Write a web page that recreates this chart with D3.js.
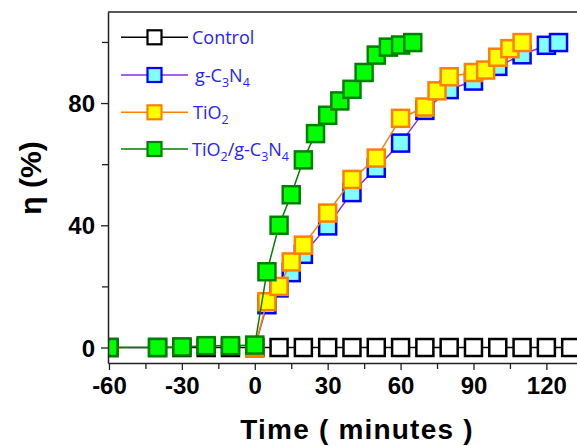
<!DOCTYPE html>
<html>
<head>
  <meta charset="utf-8">
  <script src="https://d3js.org/d3.v7.min.js"></script>
  <style>
    body { margin: 0; background: #fff; }
  </style>
</head>
<body>
  <script>
    // data
    var timeControl = [-60, -40, -30, -20, -10, 0, 10, 20, 30, 40, 50, 60, 70, 80, 90, 100, 110, 120, 130];
    var etaControl  = [0, 0, 0, 0, 0, 0, 0, 0, 0, 0, 0, 0, 0, 0, 0, 0, 0, 0, 0];

    var timeGCN = [0, 5, 10, 15, 20, 30, 40, 50, 60, 70, 80, 90, 100, 110, 120, 125];
    var etaGCN  = [0, 14, 19.5, 24.5, 30.5, 39.8, 50.7, 58.7, 66.9, 77.6, 84.4, 87.2, 92, 95.8, 98.9, 99.8];

    var timeTiO2 = [0, 5, 10, 15, 20, 30, 40, 50, 60, 70, 75, 80, 90, 95, 100, 105, 110];
    var etaTiO2  = [0, 15, 20, 28, 33.5, 44, 55, 62, 75, 78.7, 84, 88.6, 90, 90.8, 95, 97.8, 99.8];

    var timeComp = [-60, -40, -30, -20, -10, 0, 5, 10, 15, 20, 25, 30, 35, 40, 45, 50, 55, 60, 65];
    var etaComp  = [0, 0, 0.2, 0.6, 0.6, 0.8, 24.8, 40, 50, 61.4, 70, 76, 80.7, 84.5, 90, 95.7, 98.3, 99, 99.8];

    var xMajor = [-60, -30, 0, 30, 60, 90, 120];
    var xMinor = [-45, -15, 15, 45, 75, 105];
    var yMajor = [0, 40, 80];
    var yMinor = [20, 60, 100];

    var width = 577, height = 446;
    var padL = 108, padT = 12, padB = 363;

    var svg = d3.select('body').append('svg')
      .attr('width', width)
      .attr('height', height);

    var x = d3.scaleLinear().domain([-60.4, 132.6]).range([padL, width]);
    var y = d3.scaleLinear().domain([-5.07, 109.8]).range([padB, padT]);

    // series styles
    var series = [
      { t: timeControl, v: etaControl, line: '#000000', fill: '#ffffff', edge: '#000000' },
      { t: timeGCN, v: etaGCN, line: '#8a2be2', fill: '#80ffff', edge: '#0000ff' },
      { t: timeTiO2, v: etaTiO2, line: '#ff8000', fill: '#ffff00', edge: '#ff8000' },
      { t: timeComp, v: etaComp, line: '#008000', fill: '#00ff00', edge: '#008000' }
    ];

    svg.append('clipPath').attr('id', 'plotclip')
      .append('rect')
      .attr('x', padL).attr('y', padT)
      .attr('width', width - padL).attr('height', padB - padT);

    var plot = svg.append('g').attr('clip-path', 'url(#plotclip)');
    var line = d3.line().x(function (d) { return x(d[0]); }).y(function (d) { return y(d[1]); });
    var side = 17;

    series.forEach(function (s) {
      var pts = s.t.map(function (t, i) { return [t, s.v[i]]; });
      plot.append('path')
        .attr('d', line(pts))
        .attr('fill', 'none')
        .attr('stroke', s.line)
        .attr('stroke-width', 1.5);
      plot.append('g').selectAll('rect')
        .data(pts)
        .enter()
        .append('rect')
        .attr('x', function (d) { return x(d[0]) - side / 2; })
        .attr('y', function (d) { return y(d[1]) - side / 2; })
        .attr('width', side)
        .attr('height', side)
        .attr('fill', s.fill)
        .attr('stroke', s.edge)
        .attr('stroke-width', 2.5);
    });

    // axes
    var tickFont = "bold 24px 'Liberation Sans', Arial, sans-serif";

    var xAxis = svg.append('g')
      .attr('transform', 'translate(0,' + padB + ')')
      .call(d3.axisBottom(x).tickValues(xMajor).tickSize(7).tickPadding(6).tickSizeOuter(0)
        .tickFormat(function (d) { return String(d); }));
    xAxis.selectAll('text').attr('dy', 0).attr('y', 31).style('font', tickFont).attr('fill', '#000');
    svg.append('g')
      .attr('transform', 'translate(0,' + padB + ')')
      .call(d3.axisBottom(x).tickValues(xMinor).tickSize(6).tickFormat('').tickSizeOuter(0))
      .select('.domain').remove();

    var yAxis = svg.append('g')
      .attr('transform', 'translate(' + padL + ',0)')
      .call(d3.axisLeft(y).tickValues(yMajor).tickSize(7).tickPadding(6).tickSizeOuter(0));
    yAxis.selectAll('text').attr('dy', '0.36em').style('font', tickFont).attr('fill', '#000');
    svg.append('g')
      .attr('transform', 'translate(' + padL + ',0)')
      .call(d3.axisLeft(y).tickValues(yMinor).tickSize(6).tickFormat('').tickSizeOuter(0))
      .select('.domain').remove();

    svg.selectAll('.domain').attr('stroke', '#222').attr('stroke-width', 1.5);
    svg.selectAll('.tick line').attr('stroke', '#222').attr('stroke-width', 1.3);

    // top frame line
    svg.append('line')
      .attr('x1', padL).attr('x2', width)
      .attr('y1', padT).attr('y2', padT)
      .attr('stroke', '#222').attr('stroke-width', 1.5);

    // axis titles
    svg.append('text')
      .attr('x', 357).attr('y', 439)
      .attr('text-anchor', 'middle')
      .style('font', "bold 28px 'Liberation Sans', Arial, sans-serif")
      .style('letter-spacing', '1.2px')
      .text('Time ( minutes )');

    svg.append('text')
      .attr('transform', 'translate(41,178) rotate(-90)')
      .attr('text-anchor', 'middle')
      .style('font', "bold 30px 'Liberation Sans', Arial, sans-serif")
      .text('\u03b7 (%)');

    // legend
    var legendY = [37.3, 75, 112.3, 149];
    var legendX = [192, 195, 193, 192];
    var legendParts = [
      [['Control', 0]],
      [['g-C', 0], ['3', 1], ['N', 0], ['4', 1]],
      [['TiO', 0], ['2', 1]],
      [['TiO', 0], ['2', 1], ['/g-C', 0], ['3', 1], ['N', 0], ['4', 1]]
    ];

    var legend = svg.append('g');
    series.forEach(function (s, i) {
      var ly = legendY[i];
      legend.append('line')
        .attr('x1', 121).attr('x2', 188)
        .attr('y1', ly).attr('y2', ly)
        .attr('stroke', s.line).attr('stroke-width', 1.5);
      legend.append('rect')
        .attr('x', 154.5 - 7).attr('y', ly - 7)
        .attr('width', 14).attr('height', 14)
        .attr('fill', s.fill).attr('stroke', s.edge).attr('stroke-width', 2.2);
      var txt = legend.append('text')
        .attr('x', legendX[i]).attr('y', ly + 6.5)
        .attr('fill', '#2424ff')
        .style('font', "18px 'Open Sans', sans-serif");
      var sub = false;
      legendParts[i].forEach(function (p) {
        var ts = txt.append('tspan').text(p[0]);
        if (p[1] && !sub) { ts.attr('dy', 5).style('font-size', '12.5px'); sub = true; }
        else if (p[1] && sub) { ts.style('font-size', '12.5px'); }
        else if (!p[1] && sub) { ts.attr('dy', -5); sub = false; }
      });
    });
  </script>
</body>
</html>
